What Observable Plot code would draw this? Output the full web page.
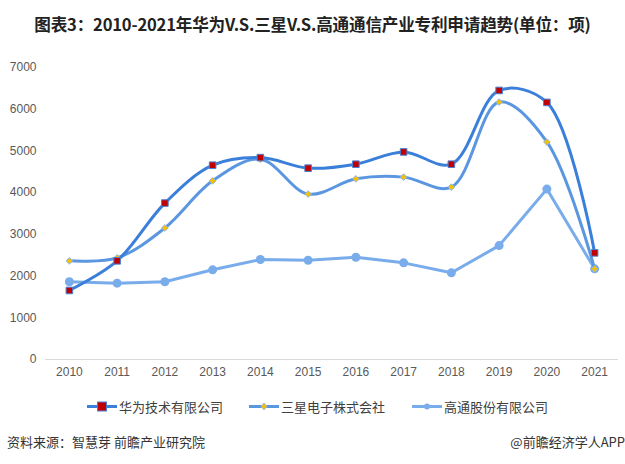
<!DOCTYPE html>
<html>
<head>
<meta charset="utf-8">
<script src="https://cdn.jsdelivr.net/npm/d3@7"></script>
<script src="https://cdn.jsdelivr.net/npm/@observablehq/plot@0.6"></script>
<style>
  body { margin: 0; width: 625px; height: 464px; background: #fff; font-family: "Noto Sans CJK SC", "Noto Sans", sans-serif; position: relative; overflow: hidden; }
  #title { position: absolute; top: 2px; left: 0; width: 625px; height: 44px; line-height: 44px; text-align: center; font-weight: bold; font-size: 16.6px; color: #222; letter-spacing: -0.2px; }
  #chart { position: absolute; top: 44px; left: 0; }
  #legend { position: absolute; top: 396px; left: 0; width: 625px; height: 20px; font-size: 13px; color: #404040; }
  .item { position: absolute; top: 0; display: flex; align-items: center; height: 20px; }
  .item svg { margin-right: 2px; }
  #source { position: absolute; left: 7px; top: 432px; font-size: 13px; color: #333; }
  #brand { position: absolute; right: 0px; top: 432px; font-size: 13px; color: #333; }
</style>
</head>
<body>
<div id="title">图表3：2010-2021年华为V.S.三星V.S.高通通信产业专利申请趋势(单位：项)</div>
<div id="chart"></div>
<div id="legend"></div>
<div id="source">资料来源：智慧芽 前瞻产业研究院</div>
<div id="brand">@前瞻经济学人APP</div>
<script>
const years = [2010, 2011, 2012, 2013, 2014, 2015, 2016, 2017, 2018, 2019, 2020, 2021];
const huawei = [1655, 2365, 3750, 4658, 4840, 4587, 4682, 4976, 4682, 6450, 6163, 2556];
const samsung = [2365, 2437, 3153, 4283, 4802, 3966, 4331, 4372, 4133, 6171, 5215, 2174];
const qualcomm = [1863, 1830, 1863, 2150, 2396, 2380, 2451, 2317, 2078, 2730, 4085, 2174];
const seriesNames = ["华为技术有限公司", "三星电子株式会社", "高通股份有限公司"];
const yTicks = [0, 1000, 2000, 3000, 4000, 5000, 6000, 7000];

const cHuawei = "#3a7fd9";
const cSamsung = "#5b96e1";
const cQualcomm = "#79acea";

const toRows = (vals, name) => years.map((y, i) => ({year: y, value: vals[i], name}));
const hRows = toRows(huawei, seriesNames[0]);
const sRows = toRows(samsung, seriesNames[1]);
const qRows = toRows(qualcomm, seriesNames[2]);

const plot = Plot.plot({
  width: 625,
  height: 340,
  marginLeft: 45,
  marginRight: 7,
  marginTop: 23,
  marginBottom: 25,
  style: {fontFamily: "'Liberation Sans', Arial, sans-serif", fontSize: "12px", color: "#595959", background: "transparent"},
  x: {type: "linear", domain: [2009.5, 2021.5], ticks: years, tickFormat: d => String(d), tickSize: 0, tickPadding: 8, label: null},
  y: {domain: [0, 7000], ticks: yTicks, tickFormat: d => String(d), tickSize: 0, tickPadding: 9, label: null},
  marks: [
    Plot.ruleY([0], {stroke: "#d9d9d9", strokeWidth: 1}),
    Plot.line(qRows, {x: "year", y: "value", stroke: cQualcomm, strokeWidth: 3}),
    Plot.dot(qRows, {x: "year", y: "value", r: 4.5, fill: cQualcomm, stroke: "none"}),
    Plot.line(sRows, {x: "year", y: "value", stroke: cSamsung, strokeWidth: 3, curve: "catmull-rom"}),
    Plot.line(hRows, {x: "year", y: "value", stroke: cHuawei, strokeWidth: 3, curve: "catmull-rom"}),
    Plot.dot(sRows, {x: "year", y: "value", symbol: "diamond2", r: 3, fill: "#f5c000", stroke: "#8fb8ea", strokeWidth: 1}),
    Plot.dot(hRows, {x: "year", y: "value", symbol: "square2", r: 4.2, fill: "#c00000", stroke: "#4a82d6", strokeWidth: 1})
  ]
});
document.getElementById("chart").appendChild(plot);

// legend
const legend = document.getElementById("legend");
const legendDefs = [
  {name: seriesNames[0], color: cHuawei, left: 87, marker: '<rect x="10.5" y="4" width="9" height="9" fill="#c00000" stroke="#4a82d6" stroke-width="1"/>'},
  {name: seriesNames[1], color: cSamsung, left: 249, marker: '<path d="M15,5 L18,8.5 L15,12 L12,8.5Z" fill="#f5c000" stroke="#8fb8ea" stroke-width="0.8"/>'},
  {name: seriesNames[2], color: cQualcomm, left: 412, marker: '<circle cx="15" cy="8.5" r="3" fill="' + cQualcomm + '"/>'}
];
legendDefs.forEach(d => {
  const div = document.createElement("div");
  div.className = "item";
  div.style.left = d.left + "px";
  div.innerHTML = '<svg width="30" height="17"><line x1="0" y1="8.5" x2="30" y2="8.5" stroke="' + d.color + '" stroke-width="3"/>' + d.marker + '</svg><span>' + d.name + '</span>';
  legend.appendChild(div);
});
</script>
</body>
</html>
